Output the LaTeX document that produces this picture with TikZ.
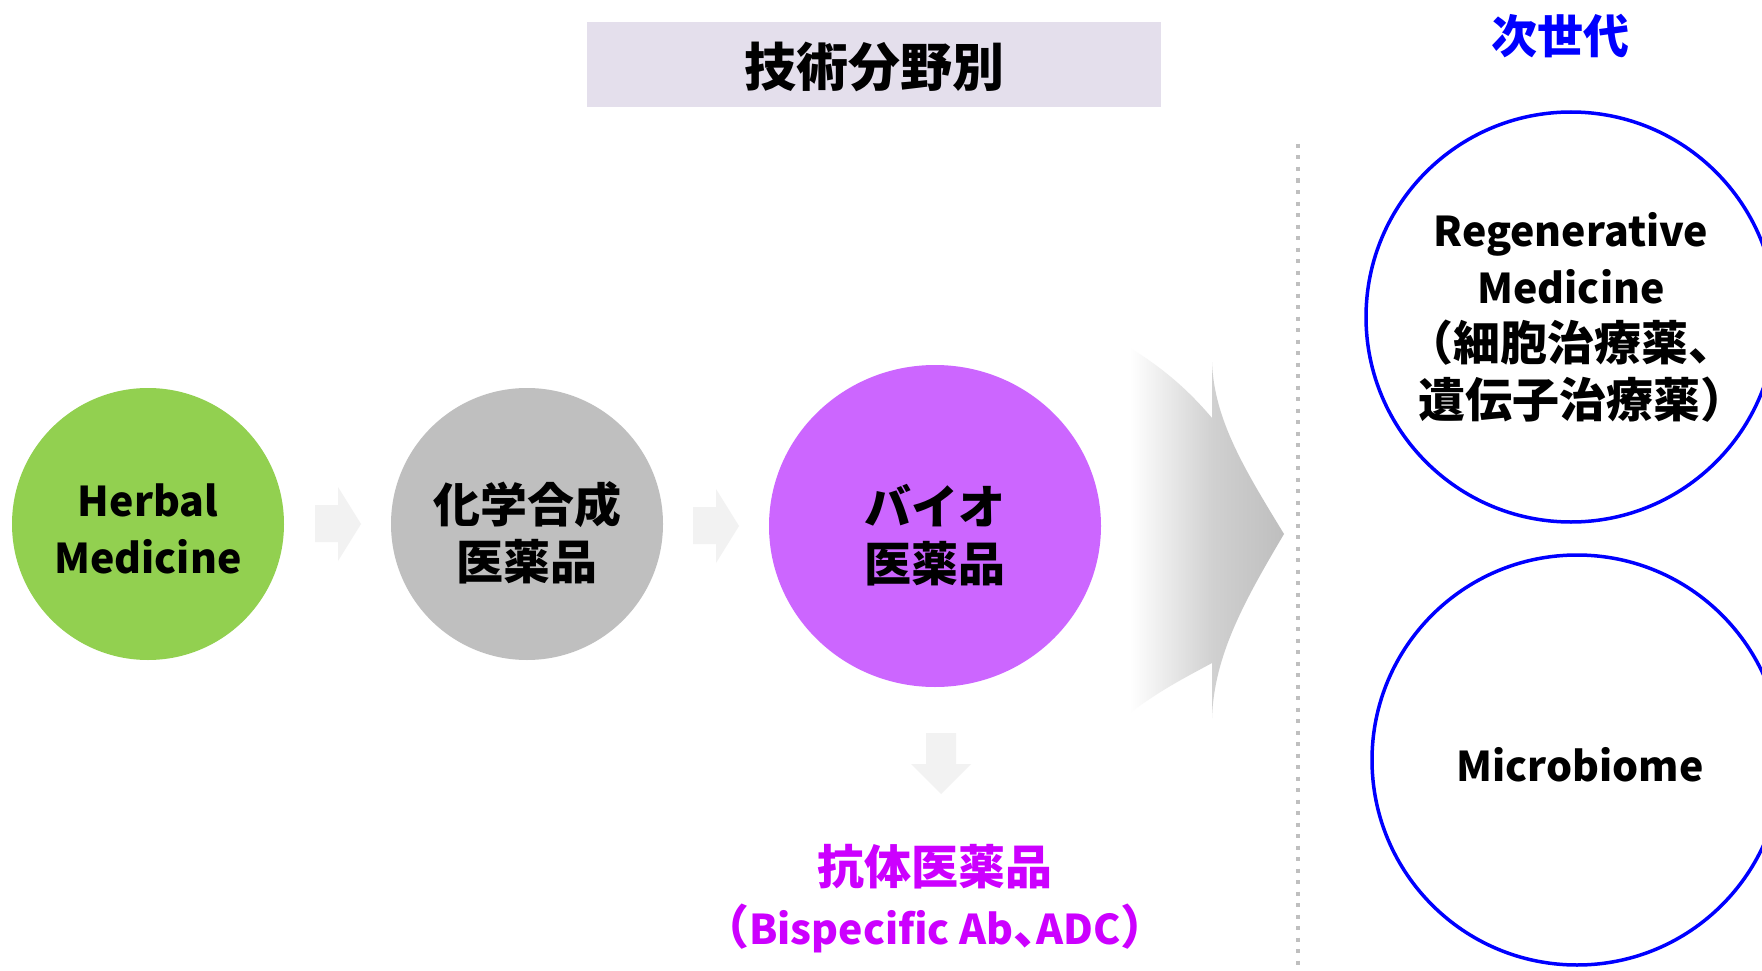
\documentclass[tikz,border=0pt]{standalone}
\usepackage{fontspec}
\setmainfont{Noto Sans CJK JP}[RawFeature={+halt}]
\usetikzlibrary{shapes.geometric}
\definecolor{herbalgreen}{HTML}{92D050}
\definecolor{chemgray}{HTML}{BFBFBF}
\definecolor{biopurple}{HTML}{CC66FF}
\definecolor{titlebg}{HTML}{E4DFEC}
\definecolor{abtext}{HTML}{CC00FF}
\definecolor{nextblue}{HTML}{0000FF}
\definecolor{lightarrow}{HTML}{F2F2F2}
\definecolor{bigarrowgray}{HTML}{BEBEBE}
\definecolor{arrowfadeA}{HTML}{ECECEC}
\definecolor{arrowfadeB}{HTML}{D0D0D0}
\definecolor{dividergray}{HTML}{BFBFBF}
\pgfdeclarehorizontalshading{arrowfade}{100bp}{color(0bp)=(white); color(25bp)=(white); color(36bp)=(arrowfadeA); color(52bp)=(arrowfadeB); color(75bp)=(bigarrowgray); color(100bp)=(bigarrowgray)}
\newcommand{\lat}[1]{{\fontsize{41}{57}\selectfont #1}}
\begin{document}
\begin{tikzpicture}[x=1pt,y=-1pt,
  cjk/.style={font=\bfseries\fontsize{47}{57}\selectfont, align=center},
  stagecircle/.style={circle, minimum size=272pt, inner sep=0pt, cjk},
  nextcircle/.style={circle, draw=nextblue, line width=3.5pt, minimum size=410pt, inner sep=0pt, cjk},
  blockarrow/.style={fill=lightarrow},
  titlebox/.style={rectangle, fill=titlebg, minimum width=574pt, minimum height=85pt, inner sep=0pt},
  dividerline/.style={draw=dividergray, line width=4pt, dash pattern=on 4pt off 7.5pt}
]
\useasboundingbox (0,0) rectangle (1762,971);
\clip (0,0) rectangle (1762,971);
\fill[white] (0,0) rectangle (1762,971);

% title
\node[titlebox] (title) at (874,64.5) {};
\node[font=\bfseries\fontsize{52}{60}\selectfont] (titletext) at (874,67) {技術分野別};
\node[font=\bfseries\fontsize{46}{56}\selectfont, text=nextblue] (nextgen) at (1560,36) {次世代};

% big gradient arrow
\shade[shading=arrowfade]
  (1130,348) .. controls (1170,372) and (1195,398) .. (1212,418)
  -- (1212,362) .. controls (1214,420) and (1245,470) .. (1284,534)
  .. controls (1245,600) and (1214,655) .. (1212,718)
  -- (1212,663) .. controls (1190,675) and (1160,690) .. (1130,713) -- cycle;

% stage circles
\node[stagecircle, fill=herbalgreen] (herbal) at (148,524) {};
\node[cjk] (herbaltext) at (148,529) {\lat{Herbal}\\\lat{Medicine}};
\node[stagecircle, fill=chemgray] (chem) at (527,524) {};
\node[cjk] (chemtext) at (527,533) {化学合成\\医薬品};
\node[ellipse, fill=biopurple, minimum width=332pt, minimum height=322pt, inner sep=0pt] (bio) at (935,526) {};
\node[cjk] (biotext) at (935,535) {バイオ\\医薬品};

% small block arrows
\fill[blockarrow] (315,505) -- (338,505) -- (338,487) -- (361,524) -- (338,561) -- (338,542) -- (315,542) -- cycle;
\fill[blockarrow] (693,507) -- (716,507) -- (716,489) -- (739,526) -- (716,563) -- (716,544) -- (693,544) -- cycle;
\fill[blockarrow] (926,733) -- (956,733) -- (956,764) -- (971,764) -- (941,794) -- (911,764) -- (926,764) -- cycle;

% antibody text
\node[cjk, font=\bfseries\fontsize{47}{60}\selectfont, text=abtext] (antibody) at (935,899) {抗体医薬品\\（\lat{Bispecific Ab}、\lat{ADC}）};

% divider
\coordinate (divtop) at (1298,144);
\coordinate (divbot) at (1298,971);
\draw[dividerline] (divtop) -- (divbot);

% next generation circles
\node[nextcircle] (regen) at (1571,317) {\lat{Regenerative}\\\lat{Medicine}\\（細胞治療薬、\\遺伝子治療薬）};
\node[nextcircle] (micro) at (1577,760) {};
\node[cjk] (microtext) at (1580,765) {\lat{Microbiome}};
\end{tikzpicture}
\end{document}
